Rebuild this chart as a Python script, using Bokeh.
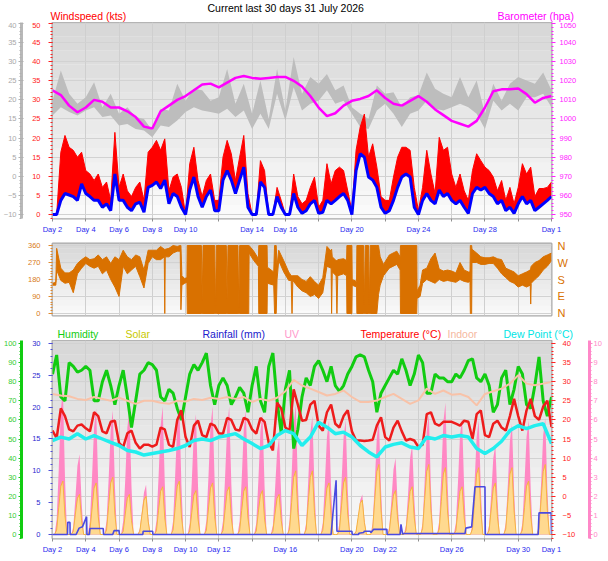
import numpy as np
from bokeh.plotting import figure
from bokeh.models import (Range1d, LinearAxis, FixedTicker, SingleIntervalTicker, BoxAnnotation)
from bokeh.core.properties import value
from bokeh.layouts import column
from bokeh.embed import file_html
from bokeh.resources import INLINE

FONT = "Liberation Sans"

# ---------------- data ----------------
TITLE = "Current last 30 days 31 July 2026"
DAY_TICKS = list(range(2, 33, 2))
TOP_LABELS = {2: "Day 2", 4: "Day 4", 6: "Day 6", 8: "Day 8", 10: "Day 10", 14: "Day 14",
              16: "Day 16", 20: "Day 20", 24: "Day 24", 28: "Day 28", 32: "Day 1"}
BOT_LABELS = {2: "Day 2", 4: "Day 4", 6: "Day 6", 8: "Day 8", 10: "Day 10", 12: "Day 12",
              16: "Day 16", 20: "Day 20", 22: "Day 22", 26: "Day 26", 30: "Day 30", 32: "Day 1"}

T8 = 2 + 0.125 * np.arange(241)  # 3-hourly sample times (day of month)
T4 = 2 + 0.25 * np.arange(121)   # 6-hourly sample times
T2 = 2 + 0.5 * np.arange(61)     # 12-hourly sample times

gust = [0, 0, 16.3, 20.7, 17.6, 16.8, 15.0, 16.3, 11.5, 10.6, 8.9, 10.6,
        7.1, 8.5, 3.7, 21.5, 7.1, 10.6, 6.2, 4.7, 7.1, 8.5, 3.7, 16.3,
        17.6, 19.4, 16.8, 19.8, 6.2, 9.8, 10.6, 7.1, 0, 13.3, 17.6, 8.9,
        4.7, 8.9, 10.6, 3.7, 3.7, 15.0, 19.4, 15.9, 8.9, 15.0, 20.7, 5.5,
        0, 0, 14.1, 11.5, 0, 0, 7.1, 3.7, 0, 0, 10.6, 4.7,
        2.8, 3.7, 7.1, 9.8, 1.9, 3.7, 13.3, 8.0, 11.5, 12.4, 11.5, 6.2,
        1.0, 16.8, 22.9, 26.3, 15.0, 18.5, 12.4, 4.7, 3.7, 3.7, 9.8, 15.0,
        17.6, 17.6, 16.8, 7.1, 1.0, 7.1, 16.8, 10.6, 5.5, 20.2, 16.8, 17.6,
        10.6, 7.1, 10.6, 6.2, 3.7, 11.5, 15.9, 14.1, 12.4, 11.5, 9.8, 6.2,
        8.9, 3.7, 7.1, 2.8, 7.1, 13.3, 10.6, 12.4, 4.7, 6.8, 6.8, 7.1, 8.5]
avg = [0, 0, 3.7, 5.5, 5.1, 4.7, 3.7, 8.0, 5.5, 4.7, 3.7, 3.7,
       1.9, 2.8, 1.0, 10.6, 3.7, 3.7, 1.9, 1.0, 2.8, 3.2, 0.6, 7.1,
       7.6, 8.5, 6.8, 9.0, 2.8, 5.5, 4.7, 1.9, 0, 6.4, 9.8, 4.7,
       1.9, 4.7, 6.4, 1.0, 1.0, 9.0, 11.5, 9.0, 5.5, 9.0, 12.4, 1.9,
       0, 0, 8.5, 7.1, 0, 0, 4.7, 1.9, 0, 0, 5.5, 1.9,
       0.3, 1.0, 2.8, 3.7, 0.3, 0.6, 3.7, 2.8, 3.7, 4.7, 5.5, 3.7,
       0, 11.5, 15.9, 15.0, 9.8, 9.0, 7.1, 1.9, 0.3, 1.0, 3.7, 7.1,
       9.8, 10.6, 9.8, 1.9, 0, 3.7, 5.5, 3.7, 2.8, 6.4, 4.7, 5.5,
       3.7, 2.8, 3.7, 1.9, 0.3, 5.5, 7.1, 6.4, 7.1, 5.5, 4.7, 2.8,
       3.7, 1.0, 1.9, 0.3, 2.8, 4.7, 2.8, 3.7, 1.0, 1.9, 2.8, 3.7, 4.7]

gray_lo = [15.9, 18.1, 16.8, 15.9, 17.2, 18.1, 15.5, 15.9, 13.3, 13.7, 12.4, 12.0, 10.2,
           13.3, 12.9, 14.6, 16.8, 18.1, 17.2, 16.8, 16.4, 17.7, 15.5, 17.2, 12.4, 16.4,
           12.4, 21.6, 14.6, 23.3, 17.2, 19.0, 19.8, 22.5, 19.0, 19.8, 16.4, 12.9, 12.4,
           17.2, 19.0, 16.4, 12.9, 16.4, 17.2, 19.8, 17.7, 17.2, 18.1, 19.0, 18.1, 16.4,
           12.4, 19.8, 17.2, 19.0, 17.2, 20.7, 20.7, 21.6, 18.1]
gray_hi = [19.8, 27.7, 21.6, 19.0, 20.7, 24.6, 18.1, 21.6, 16.4, 18.1, 15.5, 15.0, 12.0,
           17.7, 17.2, 24.2, 19.8, 22.9, 22.5, 19.8, 20.7, 28.1, 19.0, 24.2, 16.4, 25.1,
           15.0, 28.1, 17.2, 31.2, 21.6, 26.0, 24.2, 26.8, 22.5, 23.8, 18.1, 16.4, 15.0,
           23.8, 21.6, 22.0, 18.1, 20.7, 21.2, 27.2, 22.9, 21.6, 20.7, 26.0, 20.7, 25.1,
           16.4, 24.2, 19.8, 24.2, 26.0, 25.1, 24.2, 27.2, 22.5]
baro = [1015, 1012.5, 1007, 1003.5, 1006, 1010, 1009, 1006, 1006, 1004, 1001, 996, 995,
        1004, 1007, 1010, 1012, 1015, 1018, 1018.5, 1016.5, 1019, 1021.5, 1022.5, 1021.5,
        1021, 1021.5, 1022, 1022, 1020, 1017, 1012, 1006, 1001.5, 1003, 1007, 1009.5,
        1010.5, 1012, 1015, 1011, 1008, 1007, 1009.5, 1012, 1009, 1005, 1002, 999, 997.5,
        996, 999, 1006, 1014.5, 1015.5, 1015.5, 1016, 1013, 1008.5, 1011, 1012]

# wind direction: sample time (day), lowest and highest bearing seen around that time
dir_t = [2.00, 2.20, 2.25, 2.50, 2.75, 3.00, 3.25, 3.50, 3.75, 4.00, 4.25, 4.50, 4.75,
         5.00, 5.25, 5.50, 5.75, 6.00, 6.25, 6.50, 6.75, 7.00, 7.25, 7.50, 7.75, 8.00,
         8.25, 8.50, 8.72, 8.75, 8.78, 9.00, 9.25, 9.50, 9.68, 9.72, 9.78, 9.95, 10.08,
         10.10, 10.95, 11.00, 11.05, 11.75, 11.80, 11.85, 12.45, 12.50, 12.55, 13.15, 13.20,
         13.25, 13.80, 13.82, 14.10, 14.38, 14.40, 14.90, 14.92, 15.30, 15.35, 15.45, 15.50,
         15.60, 15.90, 16.20, 16.35, 16.40, 16.45, 16.75, 17.00, 17.25, 17.50, 17.75, 18.00,
         18.25, 18.50, 18.75, 18.78, 18.82, 19.05, 19.10, 19.15, 19.50, 19.68, 19.70, 20.00,
         20.02, 20.28, 20.30, 20.70, 20.75, 20.80, 21.00, 21.05, 21.10, 21.50, 21.60, 21.70,
         21.90, 22.25, 22.70, 22.90, 22.92, 23.90, 23.92, 24.10, 24.25, 24.50, 24.75, 25.00,
         25.25, 25.50, 25.75, 26.00, 26.25, 26.50, 26.75, 27.00, 27.10, 27.12, 27.20, 27.22,
         27.50, 27.75, 28.00, 28.25, 28.50, 28.75, 29.00, 29.25, 29.50, 29.75, 30.00, 30.25,
         30.50, 30.72, 30.75, 30.78, 31.00, 31.25, 31.50, 31.75, 32.00]
dir_lo = [150, 150, 230, 175, 160, 165, 110, 210, 240, 265, 250, 240, 250,
          210, 230, 180, 140, 90, 250, 210, 230, 250, 195, 135, 265, 300,
          285, 285, 300, 0, 300, 300, 320, 330, 330, 20, 150, 160, 165,
          0, 0, 0, 0, 0, 0, 0, 0, 0, 0, 0, 0,
          0, 0, 320, 280, 250, 0, 0, 160, 150, 0, 0, 180,
          280, 220, 175, 175, 0, 175, 140, 120, 110, 90, 100, 80,
          110, 250, 240, 0, 220, 200, 0, 200, 210, 200, 0, 0,
          150, 140, 0, 0, 0, 0, 0, 0, 0, 0, 100, 150,
          200, 240, 260, 230, 0, 0, 80, 90, 160, 180, 170, 160,
          180, 170, 175, 170, 165, 180, 170, 165, 170, 0, 0, 270,
          270, 260, 260, 265, 265, 240, 210, 190, 170, 160, 140, 150,
          140, 150, 50, 160, 180, 200, 230, 250, 280]
dir_hi = [160, 165, 345, 240, 215, 215, 230, 265, 285, 300, 285, 290, 310,
          285, 300, 265, 300, 285, 335, 300, 285, 310, 300, 230, 335, 335,
          335, 355, 340, 340, 340, 345, 360, 355, 360, 360, 200, 185, 190,
          360, 360, 70, 360, 360, 30, 360, 360, 70, 360, 360, 30,
          360, 360, 360, 330, 290, 360, 360, 245, 220, 360, 360, 250,
          335, 280, 220, 200, 200, 200, 200, 180, 170, 195, 170, 150,
          190, 355, 330, 340, 300, 280, 280, 285, 290, 280, 360, 360,
          180, 170, 360, 360, 50, 360, 360, 50, 360, 360, 360, 300,
          260, 310, 330, 300, 360, 360, 120, 150, 230, 240, 290, 320,
          235, 225, 230, 225, 215, 270, 230, 220, 220, 360, 360, 340,
          320, 300, 295, 295, 300, 290, 285, 240, 230, 220, 200, 210,
          220, 230, 240, 250, 270, 280, 300, 310, 320]

temp = [17.2, 15.2, 23.0, 21.0, 17.5, 17.0, 18.5, 18.8, 17.8, 17.0, 22.0, 21.0,
        17.0, 16.5, 19.5, 19.8, 14.0, 12.9, 16.5, 17.2, 14.0, 12.5, 13.5, 13.5,
        13.0, 13.5, 18.0, 17.5, 13.5, 12.9, 20.0, 22.5, 15.5, 12.9, 18.5, 19.8,
        16.0, 15.5, 19.0, 18.5, 16.5, 16.4, 20.5, 20.0, 17.5, 17.2, 20.5, 20.0,
        17.5, 16.4, 20.5, 19.5, 14.0, 12.0, 24.5, 23.0, 18.0, 17.2, 28.0, 24.0,
        19.8, 20.0, 24.0, 25.0, 18.5, 17.2, 22.0, 24.0, 19.0, 18.0, 21.0, 22.5,
        17.0, 14.6, 14.6, 14.5, 14.6, 14.8, 18.5, 20.7, 15.5, 14.6, 18.0, 19.8,
        17.0, 14.6, 15.0, 14.6, 12.9, 13.5, 21.5, 22.0, 19.0, 18.5, 19.5, 19.5,
        19.5, 19.0, 18.5, 19.8, 19.5, 15.0, 21.5, 22.5, 16.0, 15.5, 19.0, 19.8,
        18.0, 17.2, 21.0, 25.5, 21.0, 17.2, 22.5, 25.5, 21.0, 20.0, 23.5, 25.0, 18.1]
humidity = [84, 94, 72, 70, 90, 88, 85, 86, 88, 86, 70, 70,
            80, 86, 78, 68, 78, 86, 72, 56, 70, 84, 86, 90,
            89, 86, 72, 70, 76, 74, 66, 60, 72, 84, 89, 86,
            90, 95, 78, 68, 78, 82, 78, 68, 72, 77, 74, 64,
            78, 88, 70, 64, 88, 95, 70, 53, 76, 86, 45, 55,
            72, 82, 78, 88, 91, 86, 80, 88, 78, 75, 78, 84,
            88, 93, 94, 93, 86, 80, 64, 74, 78, 82, 86, 84,
            92, 86, 78, 84, 94, 90, 74, 74, 84, 82, 82, 80,
            80, 84, 82, 86, 91, 92, 82, 80, 84, 78, 64, 68,
            82, 86, 68, 76, 88, 84, 68, 66, 78, 93, 70, 62, 72]
dewpoint = [14.6, 15.5, 15.0, 16.4, 15.0, 15.9, 15.0, 14.1, 13.3, 12.0, 11.6, 10.8, 11.2,
            11.6, 12.0, 12.5, 13.3, 14.6, 15.0, 14.6, 15.5, 15.9, 16.4, 15.0, 13.8, 12.5,
            13.3, 15.9, 17.2, 16.4, 13.3, 15.5, 19.4, 18.1, 16.4, 16.8, 15.5, 13.3, 11.6,
            10.3, 12.9, 13.6, 14.0, 12.9, 12.5, 15.5, 15.0, 15.9, 15.5, 15.9, 15.5, 12.5,
            11.2, 12.5, 14.4, 17.2, 18.5, 17.7, 18.5, 19.0, 13.8]
indoor = [26.8, 26.4, 26.2, 25.5, 25.2, 26.0, 25.5, 25.0, 25.8, 25.0, 24.2, 25.0, 25.0,
          24.5, 24.2, 25.0, 24.8, 25.5, 25.2, 25.8, 25.5, 26.0, 25.5, 26.0, 24.7, 25.5,
          25.0, 25.8, 27.5, 30.5, 29.0, 28.2, 27.3, 26.4, 26.8, 27.7, 26.0, 24.7, 24.7,
          25.1, 26.0, 26.8, 25.5, 24.2, 25.1, 28.2, 26.8, 27.7, 26.6, 26.8, 26.0, 23.8,
          26.8, 27.5, 28.2, 29.5, 31.7, 29.5, 29.1, 29.5, 29.9]
uv = [0, 0, 0.8, 3.4, 6.5, 7.6, 3.0, 0,   0, 0, 0.4, 1.9, 3.6, 4.2, 1.7, 0,
      0, 0, 0.7, 3.0, 5.6, 6.6, 2.6, 0,   0, 0, 0.7, 2.9, 5.5, 6.5, 2.6, 0,
      0, 0, 0.7, 2.9, 5.6, 6.5, 2.5, 0,   0, 0, 0.3, 1.2, 2.2, 2.6, 1.0, 0,
      0, 0, 0.7, 3.0, 5.7, 6.7, 2.7, 0,   0, 0, 0.7, 3.1, 5.7, 6.7, 2.6, 0,
      0, 0, 0.6, 2.8, 5.4, 6.3, 2.5, 0,   0, 0, 0.7, 3.0, 5.7, 6.7, 2.7, 0,
      0, 0, 0.7, 3.0, 5.6, 6.7, 2.7, 0,   0, 0, 0.7, 2.9, 5.5, 6.5, 2.6, 0,
      0, 0, 0.6, 2.8, 5.4, 6.3, 2.5, 0,   0, 0, 0.5, 2.3, 4.3, 5.1, 2.0, 0,
      0, 0, 0.7, 3.1, 5.8, 6.8, 2.7, 0,   0, 0, 0.6, 2.8, 5.3, 6.2, 2.5, 0,
      0, 0, 0.6, 2.7, 5.1, 6.0, 2.4, 0,   0, 0, 0.6, 2.7, 5.1, 6.0, 2.4, 0,
      0, 0, 0.2, 0.9, 1.8, 2.1, 0.8, 0,   0, 0, 0.6, 2.7, 5.1, 6.0, 2.4, 0,
      0, 0, 0.4, 1.8, 3.4, 4.0, 1.6, 0,   0, 0, 0.5, 2.1, 4.0, 4.7, 1.9, 0,
      0, 0, 0.6, 2.8, 5.4, 6.3, 2.5, 0,   0, 0, 0.7, 3.1, 5.9, 6.9, 2.8, 0,
      0, 0, 0.6, 2.7, 5.2, 6.1, 2.4, 0,   0, 0, 0.6, 2.7, 5.1, 6.0, 2.4, 0,
      0, 0, 0.5, 2.1, 4.0, 4.7, 1.9, 0,   0, 0, 0.6, 2.6, 4.9, 5.8, 2.3, 0,
      0, 0, 0.6, 2.7, 5.1, 6.0, 2.4, 0,   0, 0, 0.6, 2.7, 5.2, 6.1, 2.4, 0,
      0]
solar = [0, 0, 70, 420, 760, 840, 290, 0,    0, 0, 50, 320, 570, 630, 220, 0,
         0, 0, 65, 400, 730, 810, 280, 0,    0, 0, 70, 450, 810, 900, 320, 0,
         0, 0, 50, 320, 570, 630, 220, 0,    0, 0, 50, 300, 540, 600, 210, 0,
         0, 0, 60, 380, 680, 750, 260, 0,    0, 0, 70, 420, 760, 840, 290, 0,
         0, 0, 55, 350, 620, 690, 240, 0,    0, 0, 65, 400, 730, 810, 280, 0,
         0, 0, 60, 380, 680, 750, 260, 0,    0, 0, 60, 380, 680, 750, 260, 0,
         0, 0, 55, 350, 620, 690, 240, 0,    0, 0, 50, 320, 570, 630, 220, 0,
         0, 0, 80, 500, 900, 1000, 350, 0,   0, 0, 80, 500, 900, 1000, 350, 0,
         0, 0, 65, 400, 730, 810, 280, 0,    0, 0, 70, 450, 810, 900, 320, 0,
         0, 0, 45, 270, 490, 540, 190, 0,    0, 0, 90, 550, 990, 1100, 380, 0,
         0, 0, 55, 350, 620, 690, 240, 0,    0, 0, 60, 380, 680, 750, 260, 0,
         0, 0, 90, 550, 990, 1100, 380, 0,   0, 0, 85, 520, 950, 1050, 370, 0,
         0, 0, 60, 380, 680, 750, 260, 0,    0, 0, 85, 520, 950, 1050, 370, 0,
         0, 0, 65, 400, 730, 810, 280, 0,    0, 0, 85, 520, 950, 1050, 370, 0,
         0, 0, 70, 420, 760, 840, 290, 0,    0, 0, 90, 550, 990, 1100, 380, 0,
         0]
rain_t = [2.0, 2.9, 2.92, 3.05, 3.06, 3.42, 3.6, 3.8, 4.05, 4.07, 4.22, 4.25, 5.05, 5.07,
          5.62, 5.7, 6.0, 6.02, 7.43, 7.45, 8.02, 8.04, 18.75, 18.85, 19.05, 19.1, 20.0,
          20.02, 20.4, 20.42, 20.7, 20.75, 21.1, 21.15, 21.3, 22.1, 22.12, 22.9, 22.95,
          23.05, 23.08, 26.8, 26.85, 27.2, 27.4, 28.0, 28.02, 31.2, 31.25, 31.98, 32.0]
rain_mm = [0, 0, 1.9, 1.9, 0, 0, 1.0, 1.2, 2.8, 0, 0, 0.95, 0.95, 0, 0, 0.6, 0.6, 0, 0,
           0.5, 0.5, 0, 0, 3.0, 8.5, 0.5, 0.5, 0, 0, 0.2, 0.3, 0.5, 0.5, 0.3, 0.8, 0.8, 0,
           0, 1.6, 0, 0.15, 0.15, 1.0, 1.2, 7.5, 7.5, 0, 0, 3.4, 3.4, 0]

HEAD1 = ["Windspeed (kts)", TITLE, "Barometer (hpa)"]
HEAD1_COLORS = ["#ff0000", "#000000", "#ff00ff"]
HEAD3 = ["Humidity", "Solar", "Rainfall (mm)", "UV", "Temperature (\u00b0C)", "Indoor",
         "Dew Point (\u00b0C)"]
HEAD3_COLORS = ["#11cc11", "#c8c800", "#2020cc", "#ff99cc", "#ff0000", "#f5b8a0", "#00e5e5"]

# ---------------- helpers ----------------
W = 608
ML, MR = 52, 57


def header_fig(height, xs, ys, texts, colors):
    h = figure(width=W, height=height, x_range=Range1d(0, W), y_range=Range1d(height, 0),
               output_backend="svg", toolbar_location=None, min_border=0,
               min_border_left=0, min_border_right=0, min_border_top=0, min_border_bottom=0)
    h.frame_align = False
    h.axis.visible = False
    h.grid.visible = False
    h.outline_line_color = None
    h.background_fill_color = "white"
    h.text(x=xs, y=ys, text=texts, text_color=colors, text_font=value(FONT),
           text_font_size="10.5px", text_baseline="middle", text_align="left")
    return h


def base_fig(height, ymin, ymax, top, bottom, yloc="left"):
    p = figure(width=W, height=height, x_range=Range1d(2, 32), y_range=Range1d(ymin, ymax),
               output_backend="svg", toolbar_location=None, y_axis_location=yloc,
               min_border_left=ML, min_border_right=MR, min_border_top=top,
               min_border_bottom=bottom)
    p.outline_line_color = "#a8a8a8"
    p.outline_line_width = 2
    p.background_fill_color = "#f4f4f4"
    n = 14
    for i in range(n):
        c = int(250 - (250 - 216) * (i / (n - 1)))
        p.add_layout(BoxAnnotation(bottom=ymin + (ymax - ymin) * i / n,
                                   top=ymin + (ymax - ymin) * (i + 1) / n,
                                   fill_color="#%02x%02x%02x" % (c, c, c), fill_alpha=1,
                                   line_alpha=0, level="image"))
    p.xgrid.ticker = FixedTicker(ticks=DAY_TICKS)
    p.xgrid.grid_line_color = "#cfcfcf"
    p.ygrid.grid_line_color = "#d2d2d2"
    p.xaxis.ticker = FixedTicker(ticks=DAY_TICKS)
    p.xaxis.axis_line_color = None
    p.xaxis.major_tick_line_color = "#909090"
    p.xaxis.major_tick_out = 3
    p.xaxis.major_tick_in = 0
    p.xaxis.minor_tick_line_color = None
    p.xaxis.major_label_text_font = FONT
    p.xaxis.major_label_text_font_size = "7.5px"
    p.xaxis.major_label_text_color = "#2a2aee"
    p.xaxis.major_label_standoff = 3
    return p


def style_axis(ax, color, lcolor=None, line=None, lw=1, tick_out=4, tick_in=0, minor_out=2,
               standoff=8, size="7.5px"):
    ax.axis_line_color = line
    ax.axis_line_width = lw
    ax.major_tick_line_color = color
    ax.minor_tick_line_color = color
    ax.major_tick_out = tick_out
    ax.major_tick_in = tick_in
    ax.minor_tick_out = minor_out
    ax.minor_tick_in = 0
    ax.major_label_text_color = lcolor or color
    ax.major_label_text_font = FONT
    ax.major_label_text_font_size = size
    ax.major_label_standoff = standoff


def pad_axis(ax, size, standoff):
    ax.axis_label = " "
    ax.axis_label_text_font_size = size
    ax.axis_label_standoff = standoff


# ---------------- header row 1 ----------------
h1 = header_fig(22, [50, 207, 497], [15, 7, 15], HEAD1, HEAD1_COLORS)

# ---------------- panel 1: wind & barometer ----------------
p1 = base_fig(214, -1.047, 50.26, 0, 18)
p1.extra_y_ranges = {"gray": Range1d(-11.047, 40.26), "baro": Range1d(947.9, 1050.5)}
p1.yaxis.ticker = SingleIntervalTicker(interval=5, num_minor_ticks=5)
style_axis(p1.yaxis[0], "#ff2020", standoff=8)
pad_axis(p1.yaxis[0], "3px", 1)
gax = LinearAxis(y_range_name="gray", ticker=SingleIntervalTicker(interval=5, num_minor_ticks=5))
style_axis(gax, "#b0b0b0", lcolor="#a8a8a8", line="#b8b8b8", lw=3, tick_out=3, tick_in=2,
           minor_out=2, standoff=2)
p1.add_layout(gax, "left")
bax = LinearAxis(y_range_name="baro", ticker=SingleIntervalTicker(interval=10, num_minor_ticks=5))
style_axis(bax, "#ff22ff", standoff=4)
p1.add_layout(bax, "right")
p1.xaxis.major_label_overrides = {t: TOP_LABELS.get(t, "") for t in DAY_TICKS}

p1.varea(x=T2, y1=gray_lo, y2=gray_hi, y_range_name="gray", color="#bdbdbd")
p1.line(T2, baro, y_range_name="baro", color="#ff00ff", line_width=2.5)
p1.varea(x=T4, y1=avg, y2=gust, color="#ff0000")
p1.line(T4, gust, color="#ff0000", line_width=1)
p1.line(T4, avg, color="#0000ff", line_width=3)

# ---------------- panel 2: wind direction ----------------
p2 = base_fig(89, -10.6, 370.6, 7, 10)
p2.xaxis.visible = False
p2.yaxis.ticker = FixedTicker(ticks=[0, 90, 180, 270, 360], minor_ticks=list(range(0, 361, 15)))
style_axis(p2.yaxis[0], "#e08a30", lcolor="#d87a20", standoff=8)
cax = LinearAxis(ticker=FixedTicker(ticks=[0, 90, 180, 270, 360]))
style_axis(cax, "#d97100", standoff=6, size="11px", tick_out=0, minor_out=0)
cax.major_tick_line_color = None
cax.minor_tick_line_color = None
cax.major_label_overrides = {0: "N", 90: "E", 180: "S", 270: "W", 360: "N"}
p2.add_layout(cax, "right")
p2.varea(x=dir_t, y1=dir_lo, y2=dir_hi, color="#d97100")
p2.line(dir_t, dir_lo, color="#d97100", line_width=1)
p2.line(dir_t, dir_hi, color="#d97100", line_width=1)

# ---------------- header row 3 ----------------
h3 = header_fig(15, [57, 125, 202, 284, 360, 447, 503], [8] * 7, HEAD3, HEAD3_COLORS)

# ---------------- panel 3: temperature etc ----------------
p3 = base_fig(220, -11.05, 40.79, 0, 22, yloc="right")
p3.extra_y_ranges = {"hum": Range1d(-2.1, 101.58), "rain": Range1d(-0.63, 30.47),
                     "uv": Range1d(-0.21, 10.158), "solar": Range1d(-63, 3047)}
p3.yaxis.ticker = SingleIntervalTicker(interval=5, num_minor_ticks=5)
style_axis(p3.yaxis[0], "#ff2020", standoff=7)
pad_axis(p3.yaxis[0], "6px", 2)
rax = LinearAxis(y_range_name="rain", ticker=SingleIntervalTicker(interval=5, num_minor_ticks=5))
style_axis(rax, "#5050d8", lcolor="#2a2ad0", standoff=8)
pad_axis(rax, "3px", 1)
p3.add_layout(rax, "left")
hax = LinearAxis(y_range_name="hum", ticker=SingleIntervalTicker(interval=10, num_minor_ticks=5))
style_axis(hax, "#11cc11", lcolor="#33cc33", line="#11cc11", lw=3, tick_out=3, tick_in=0,
           standoff=2)
p3.add_layout(hax, "left")
uax = LinearAxis(y_range_name="uv", ticker=SingleIntervalTicker(interval=1, num_minor_ticks=5))
style_axis(uax, "#ff88c8", line="#ff88c8", lw=3, tick_out=3, standoff=1)
p3.add_layout(uax, "right")
p3.xaxis.major_label_overrides = {t: BOT_LABELS.get(t, "") for t in DAY_TICKS}

p3.varea(x=T8, y1=0, y2=uv, y_range_name="uv", color="#ff88c4")
p3.varea(x=T8, y1=0, y2=solar, y_range_name="solar", color="#ffe28a", alpha=0.9)
p3.line(T8, solar, y_range_name="solar", color="#f5b440", line_width=1)
p3.line(rain_t, rain_mm, y_range_name="rain", color="#4a4ae0", line_width=1.6)
p3.line(T4, humidity, y_range_name="hum", color="#11cc11", line_width=3)
p3.line(T2, indoor, color="#f8c2a8", line_width=2)
p3.line(T4, temp, color="#ee1c1c", line_width=2.5)
p3.line(T2, dewpoint, color="#22eeee", line_width=3.5)

layout = column(h1, p1, p2, h3, p3, spacing=0)
open("out.html", "w").write(file_html(layout, INLINE))
